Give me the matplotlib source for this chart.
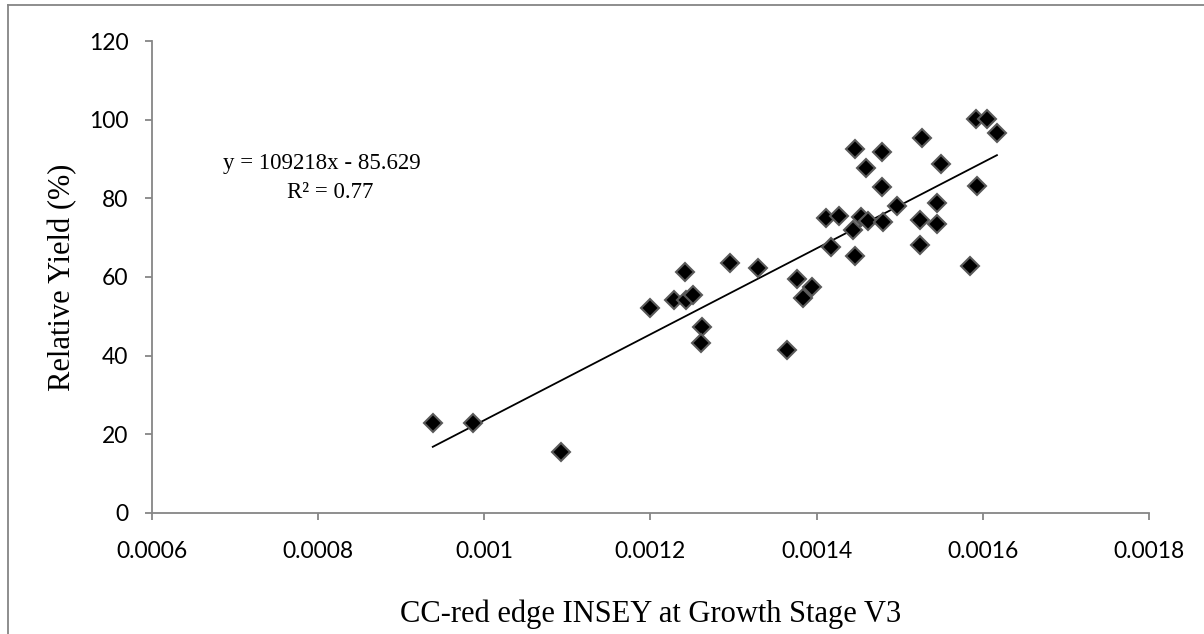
import numpy as np
import matplotlib
matplotlib.use('Agg')
import matplotlib.pyplot as plt
from matplotlib.lines import Line2D

# CC-red edge INSEY at V3 vs relative yield
insey = [0.000938, 0.000987, 0.001092, 0.001199, 0.001228, 0.001241, 0.001243,
         0.001251, 0.001262, 0.001261, 0.001296, 0.001329, 0.001364, 0.001376,
         0.001383, 0.001394, 0.001411, 0.001417, 0.001427, 0.001444, 0.001446,
         0.001446, 0.001454, 0.001460, 0.001462, 0.001480, 0.001479, 0.001479,
         0.001497, 0.001524, 0.001524, 0.001527, 0.001545, 0.001545, 0.001550,
         0.001584, 0.001593, 0.001592, 0.001605, 0.001617]
rel_yield = [22.9, 22.9, 15.5, 52.1, 54.1, 61.2, 54.1,
             55.4, 47.3, 43.2, 63.5, 62.3, 41.4, 59.5,
             54.6, 57.4, 75.0, 67.6, 75.5, 71.9, 65.3,
             92.5, 75.2, 87.7, 74.2, 74.0, 91.7, 82.8,
             78.0, 74.5, 68.1, 95.3, 78.8, 73.4, 88.7,
             62.8, 83.1, 100.2, 100.2, 96.6]

slope = 109218
intercept = -85.629
r2 = 0.77

xticks = [0.0006, 0.0008, 0.001, 0.0012, 0.0014, 0.0016, 0.0018]
xtick_labels = ['0.0006', '0.0008', '0.001', '0.0012', '0.0014', '0.0016', '0.0018']
yticks = [0, 20, 40, 60, 80, 100, 120]

serif = ['Liberation Serif', 'DejaVu Serif']
axis_grey = '#868686'

fig = plt.figure(figsize=(12.04, 6.34), dpi=100)
ax = fig.add_axes([0.1262, 0.1909, 0.8281, 0.7444])

ax.plot(insey, rel_yield, linestyle='none', marker='D', markersize=8.7,
        markerfacecolor='black', markeredgecolor='#5a5a5a', markeredgewidth=1.5,
        zorder=3)

# linear trend line drawn from the fitted equation
xfit = np.array([min(insey), max(insey)])
ax.plot(xfit, slope * xfit + intercept, color='black', linewidth=1.3, zorder=2)

ax.text(0.000804, 88.9, f'y = {slope}x - {abs(intercept)}', ha='center', va='center',
        fontsize=16.5, family=serif)
ax.text(0.000815, 81.4, f'R² = {r2}', ha='center', va='center',
        fontsize=16.5, family=serif)

ax.set_xlim(0.0006, 0.0018)
ax.set_ylim(0, 120)
ax.set_xticks(xticks)
ax.set_xticklabels(xtick_labels)
ax.set_yticks(yticks)

for side in ['top', 'right']:
    ax.spines[side].set_visible(False)
for side in ['left', 'bottom']:
    ax.spines[side].set_color(axis_grey)
    ax.spines[side].set_linewidth(1.3)

ax.tick_params(axis='both', direction='out', length=5, width=1.3, color=axis_grey,
               labelsize=16.5)
ax.tick_params(axis='x', pad=15)
ax.tick_params(axis='y', pad=12)
for lbl in ax.get_xticklabels() + ax.get_yticklabels():
    lbl.set_family(['Lato', 'DejaVu Sans'])

ax.set_xlabel('CC-red edge INSEY at Growth Stage V3', fontsize=22, family=serif)
ax.set_ylabel('Relative Yield (%)', fontsize=22, family=serif)
ax.xaxis.label.set_verticalalignment('baseline')
ax.yaxis.label.set_verticalalignment('baseline')
ax.xaxis.set_label_coords(0.5, -0.231)
ax.yaxis.set_label_coords(-0.0822, 0.5)

# outer chart frame (top and left edges)
fig.add_artist(Line2D([8 / 1204, 1.0], [1 - 5 / 634, 1 - 5 / 634],
                      transform=fig.transFigure, color='#858585', linewidth=1.3))
fig.add_artist(Line2D([8 / 1204, 8 / 1204], [0.0, 1 - 5 / 634],
                      transform=fig.transFigure, color='#858585', linewidth=1.3))

fig.savefig('out.png', dpi=100)
